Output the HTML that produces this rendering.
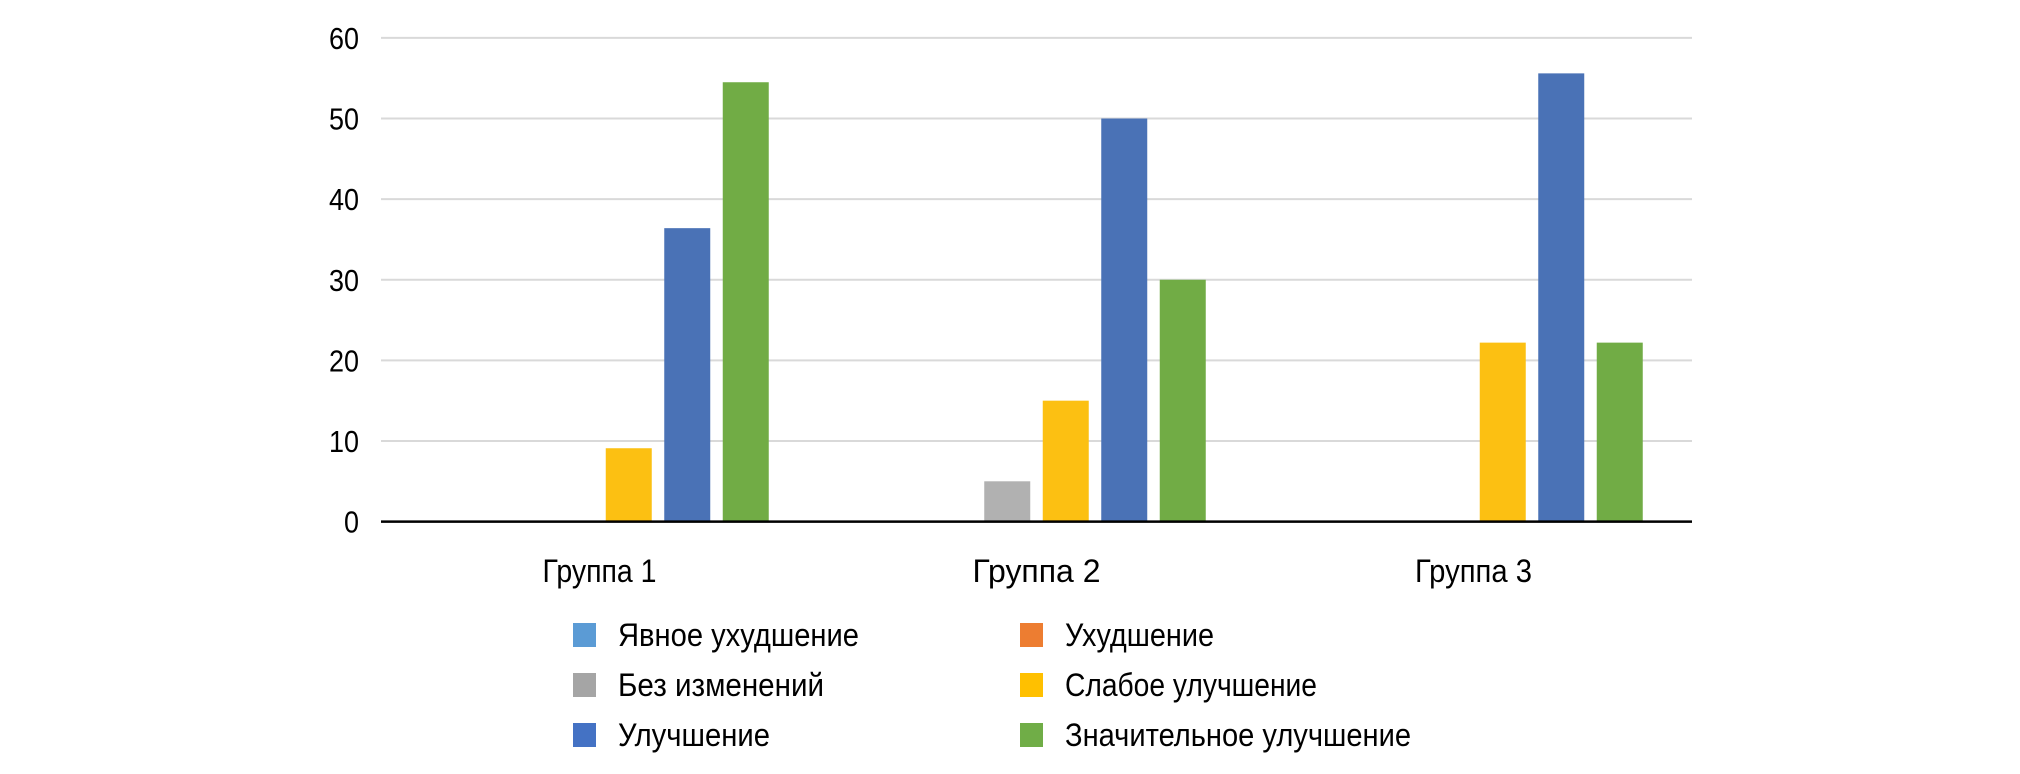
<!DOCTYPE html>
<html><head><meta charset="utf-8"><style>
html,body{margin:0;padding:0;background:#fff;}
svg{display:block;font-family:"Liberation Sans Narrow","Liberation Sans","Noto Sans CJK SC",sans-serif;}
</style></head><body>
<svg id="chart" width="2020" height="774" viewBox="0 0 2020 774" xmlns="http://www.w3.org/2000/svg">
<g id="grid"></g>
<g id="yticks"></g>
<g id="bars"></g>
<g id="xlabels"></g>
<g id="legend"></g>
</svg>
<script>
const categories = ["Группа 1", "Группа  2", "Группа 3"];
const seriesNames = ["Явное ухудшение", "Ухудшение", "Без изменений", "Слабое улучшение", "Улучшение", "Значительное улучшение"];
const seriesColors = ["#5b9bd5", "#ed7d31", "#a5a5a5", "#ffc000", "#4472c4", "#70ad47"];
const barColors = ["#5b9bd5", "#ed7d31", "#b1b1b1", "#fcc012", "#4a72b6", "#71ac45"];
const s0 = [0, 0, 0];
const s1 = [0, 0, 0];
const s2 = [0, 5, 0];
const s3 = [9.1, 15, 22.2];
const s4 = [36.4, 50, 55.6];
const s5 = [54.5, 30, 22.2];
const seriesValues = [s0, s1, s2, s3, s4, s5];
const yTicks = [0, 10, 20, 30, 40, 50, 60];

const NS = "http://www.w3.org/2000/svg";
const L = 381, R = 1692, Y0 = 521.6, Ymax = 37.9, VMAX = 60;
function y(v){ return Y0 - (v / VMAX) * (Y0 - Ymax); }
const catW = (R - L) / categories.length;
const step = 58.5, bw = 46;
function xBar(ci, si){ return L + catW * (ci + 0.5) + (si - (seriesValues.length - 1) / 2) * step - bw / 2; }
function mk(tag, attrs, parent){ const e = document.createElementNS(NS, tag); for (const k in attrs) e.setAttribute(k, attrs[k]); parent.appendChild(e); return e; }

const grid = document.getElementById("grid");
const yt = document.getElementById("yticks");
yTicks.forEach(t => {
  if (t !== 0) {
    const ln = mk("line", {x1: L, x2: R, y1: y(t), y2: y(t), stroke: "#d9d9d9", "stroke-width": 2}, grid);
    
    
  }
  const tx = mk("text", {x: 359, y: y(t) + 11, "text-anchor": "end", "font-size": 31, fill: "#000", textLength: (String(t).length * 15), lengthAdjust: "spacingAndGlyphs"}, yt);
  tx.textContent = t;
  
  
});

const bars = document.getElementById("bars");
seriesValues.forEach((arr, si) => {
  arr.forEach((v, ci) => {
    if (v <= 0) return;
    const r = mk("rect", {x: xBar(ci, si), y: y(v), width: bw, height: Y0 - y(v), fill: barColors[si]}, bars);
    
    
  });
});
const axis = mk("line", {x1: L, x2: R, y1: Y0, y2: Y0, stroke: "#000", "stroke-width": 2.5}, bars);



const xl = document.getElementById("xlabels");
const labelW = [114, 128, 117];
categories.forEach((c, ci) => {
  const t = mk("text", {x: L + catW * (ci + 0.5), y: 582, "text-anchor": "middle", "font-size": 32, fill: "#000", "xml:space": "preserve", textLength: labelW[ci], lengthAdjust: "spacingAndGlyphs"}, xl);
  t.textContent = c;
  
  
});

const lg = document.getElementById("legend");
const colX = [573, 1020], rowY = [635, 685, 735];
const textW = [241, 149, 206, 252, 152, 346];
seriesNames.forEach((n, i) => {
  const cx = colX[i % 2], cy = rowY[Math.floor(i / 2)];
  const g = mk("g", {}, lg);
  
  
  mk("rect", {x: cx, y: cy - 12, width: 23, height: 24, fill: seriesColors[i]}, g);
  const t = mk("text", {x: cx + 45, y: cy + 11, "font-size": 32, fill: "#000", textLength: textW[i], lengthAdjust: "spacingAndGlyphs"}, g);
  t.textContent = n;
});
</script>
</body></html>
